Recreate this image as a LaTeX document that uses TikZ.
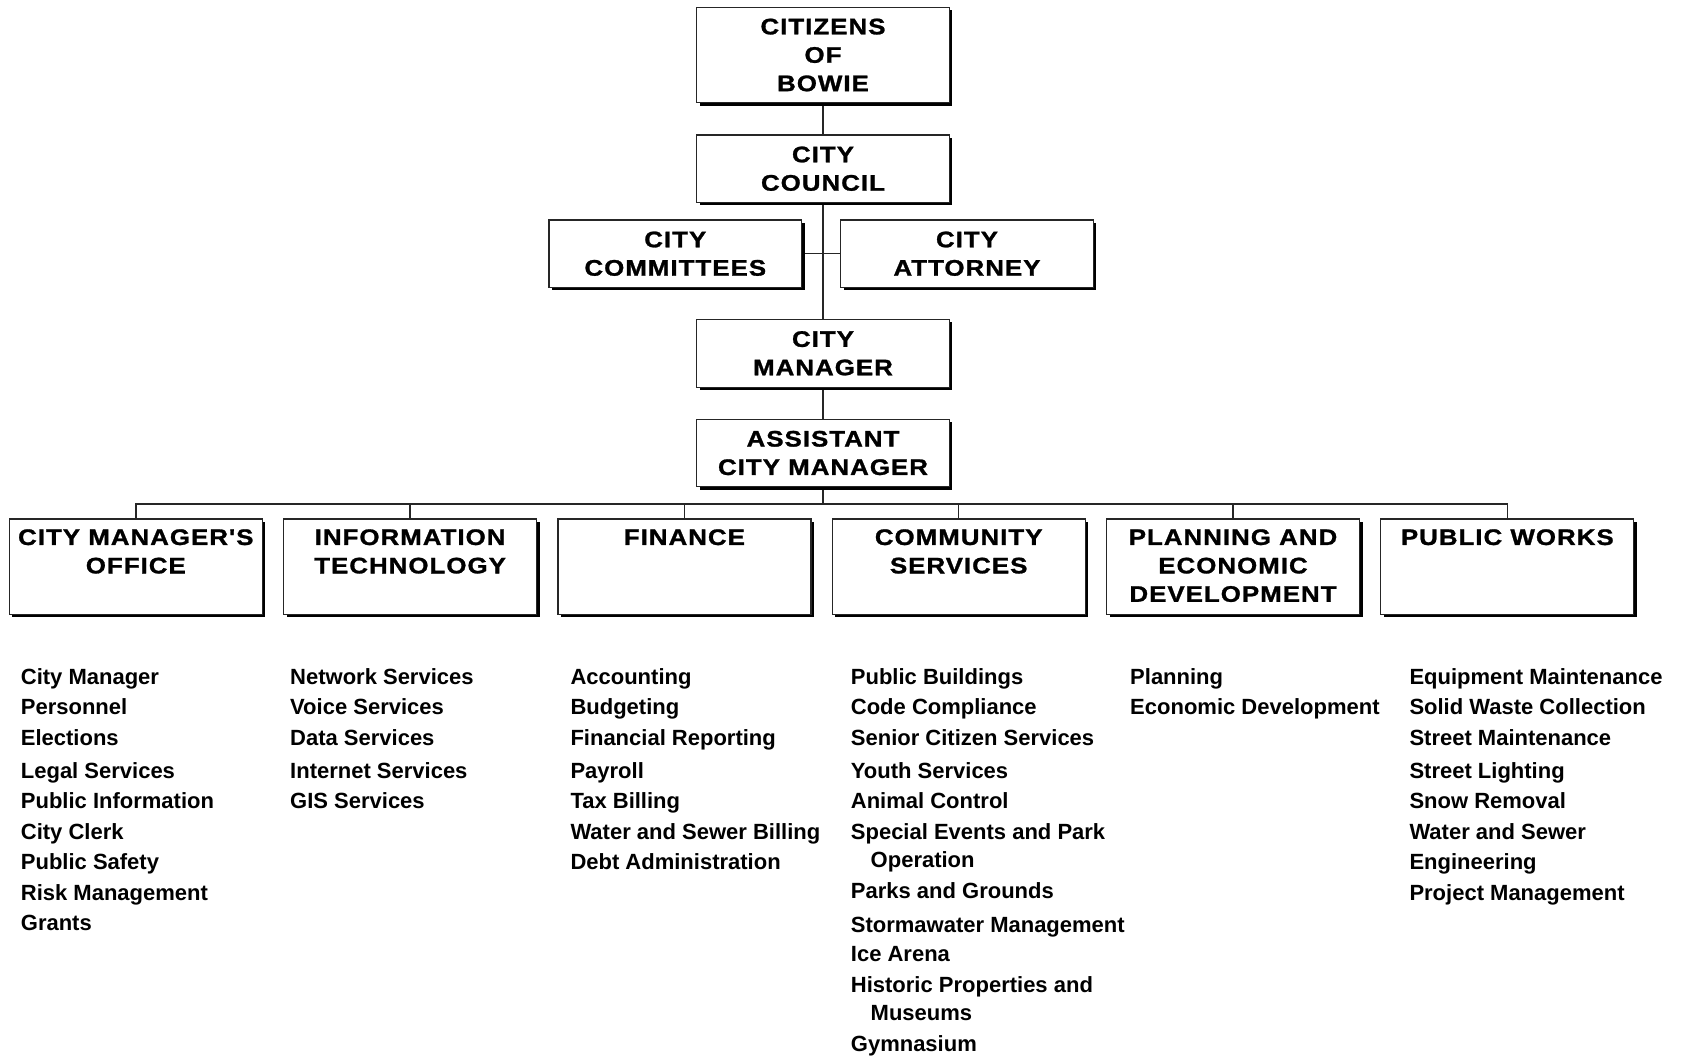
\documentclass[tikz,border=0pt]{standalone}
\usepackage{fontspec}
\setmainfont{Liberation Sans}
\newfontfamily\boxfont{Liberation Sans Bold}[FakeStretch=1.15, LetterSpace=4.5, FakeBold=1.2]
\usetikzlibrary{backgrounds,shadows}
\begin{document}
\begin{tikzpicture}[x=1pt,y=-1pt,
  conn/.style={draw=black!85, line width=1.4pt},
  shadowbox/.style={draw=black!85, line width=1.2pt, fill=white,
    drop shadow={shadow xshift=3pt, shadow yshift=-3pt, opacity=1, fill=black},
    inner sep=0pt, align=center,
    font=\boxfont\fontsize{22.5}{28.4}\selectfont},
  topbox/.style={shadowbox, minimum width=252.6pt, minimum height=67.3pt},
  deptbox/.style={shadowbox, minimum width=253pt, minimum height=95.3pt},
  depttext/.style={anchor=north, inner xsep=0pt, inner ysep=10.6pt, align=center,
    font=\boxfont\fontsize{22.5}{28.4}\selectfont},
  item/.style={anchor=base west, inner sep=0pt, font=\bfseries\fontsize{22}{26}\selectfont}
]
\useasboundingbox (0,0) rectangle (1684,1058);

% top chain
\node[topbox, minimum height=95.4pt] (citizens) at (823,55) {CITIZENS\\OF\\BOWIE};
\node[topbox] (council) at (823,168.7) {CITY\\COUNCIL};
\node[topbox] (committees) at (675.3,253.7) {CITY\\COMMITTEES};
\node[topbox] (attorney) at (967,253.7) {CITY\\ATTORNEY};
\node[topbox, minimum height=68pt] (cm) at (823,353.3) {CITY\\MANAGER};
\node[topbox] (acm) at (823,453) {ASSISTANT\\CITY MANAGER};

% departments
\node[deptbox] (cmo) at (135.8,566.7) {};
\node[deptbox] (it)  at (410.1,566.7) {};
\node[deptbox] (fin) at (684.4,566.7) {};
\node[deptbox] (cs)  at (958.7,566.7) {};
\node[deptbox] (ped) at (1233,566.7) {};
\node[deptbox] (pw)  at (1507.3,566.7) {};
\node[depttext] (cmot) at (cmo.north) {CITY MANAGER'S\\OFFICE};
\node[depttext] (itt)  at (it.north) {INFORMATION\\TECHNOLOGY};
\node[depttext] (fint) at (fin.north) {FINANCE};
\node[depttext] (cst)  at (cs.north) {COMMUNITY\\SERVICES};
\node[depttext] (pedt) at (ped.north) {PLANNING AND\\ECONOMIC\\DEVELOPMENT};
\node[depttext] (pwt)  at (pw.north) {PUBLIC WORKS};

\coordinate (bus) at (823,504);

\begin{scope}[on background layer]
  \draw[conn] (citizens) -- (council);
  \draw[conn] (council) -- (cm);
  \draw[conn] (committees.east) -- (attorney.west);
  \draw[conn] (cm) -- (acm);
  \draw[conn] (acm) -- (bus);
  \draw[conn] (cmo.north) |- (bus) -| (pw.north);
  \foreach \d in {it,fin,cs,ped} \draw[conn] (\d.north) -- (\d.north |- bus);
\end{scope}

% lists
\foreach \t/\y [count=\i] in {City Manager/684, Personnel/714, Elections/745,
  Legal Services/778.5, Public Information/808.5, City Clerk/839,
  Public Safety/869.5, Risk Management/900, Grants/930.5}
  \node[item] (cmoL\i) at (20.7,\y) {\t};
\foreach \t/\y [count=\i] in {Network Services/684, Voice Services/714, Data Services/745,
  Internet Services/778.5, GIS Services/808.5}
  \node[item] (itL\i) at (290,\y) {\t};
\foreach \t/\y [count=\i] in {Accounting/684, Budgeting/714, Financial Reporting/745,
  Payroll/778.5, Tax Billing/808.5, Water and Sewer Billing/839, Debt Administration/869.5}
  \node[item] (finL\i) at (570.3,\y) {\t};
\foreach \t/\x/\y [count=\i] in {Public Buildings/850.7/684, Code Compliance/850.7/714,
  Senior Citizen Services/850.7/745.3, Youth Services/850.7/778.6, Animal Control/850.7/808.6,
  Special Events and Park/850.7/839.8, Operation/870.5/867.7, Parks and Grounds/850.7/898.9,
  Stormawater Management/850.7/932.1, Ice Arena/850.7/961.1,
  Historic Properties and/850.7/992.3, Museums/870.5/1020.2, Gymnasium/850.7/1051.3}
  \node[item] (csL\i) at (\x,\y) {\t};
\foreach \t/\y [count=\i] in {Planning/684, Economic Development/714}
  \node[item] (pedL\i) at (1130,\y) {\t};
\foreach \t/\y [count=\i] in {Equipment Maintenance/684, Solid Waste Collection/714,
  Street Maintenance/745, Street Lighting/778.5, Snow Removal/808.5, Water and Sewer/839,
  Engineering/869.5, Project Management/900}
  \node[item] (pwL\i) at (1409.3,\y) {\t};
\end{tikzpicture}
\end{document}
